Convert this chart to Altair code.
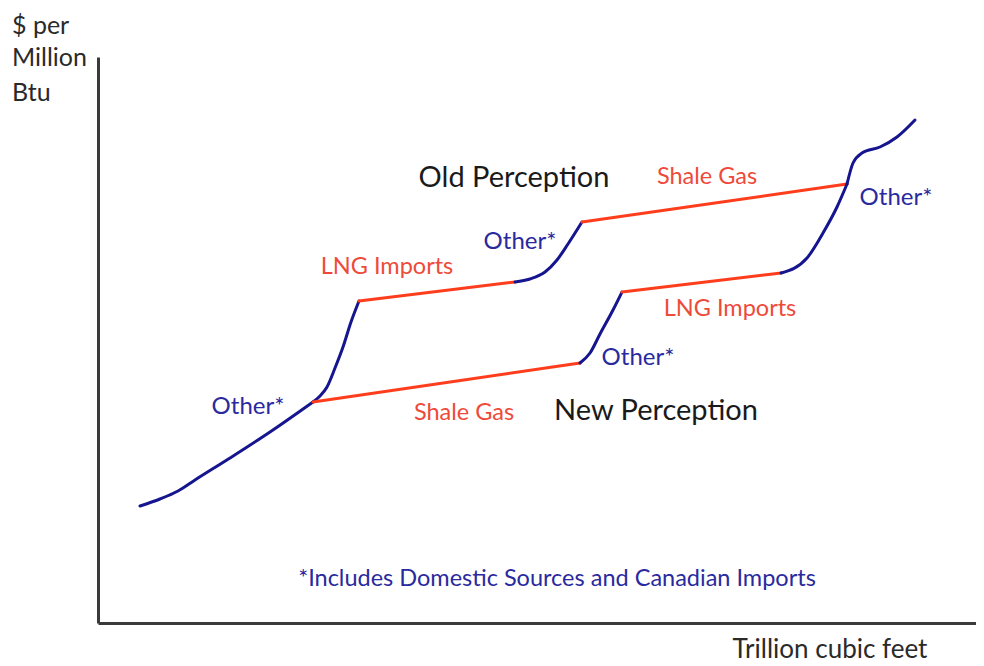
import altair as alt
import pandas as pd

# Schematic supply curve (x: quantity, y: price), units are arbitrary chart units
base_x = [42, 62, 80, 97, 132, 172, 215]
base_y = [117, 124, 132, 143, 165, 191, 221]

old_other1_x = [215, 222, 229, 237, 245, 253, 261]
old_other1_y = [221, 227, 236, 255, 276, 301, 322]
old_lng_x = [261, 417]
old_lng_y = [322, 341]
old_other2_x = [417, 432, 447, 459, 470, 484]
old_other2_y = [341, 344, 351, 363, 379, 401]
old_shale_x = [484, 749]
old_shale_y = [401, 439]

new_shale_x = [215, 482]
new_shale_y = [221, 260]
new_other1_x = [482, 492, 502, 515, 524]
new_other1_y = [260, 270, 289, 313, 331]
new_lng_x = [524, 683]
new_lng_y = [331, 350]
new_other2_x = [683, 709, 725, 739, 749]
new_other2_y = [350, 365, 390, 416, 439]

top_x = [749, 755, 764, 782, 799, 817]
top_y = [439, 460, 470, 476, 486, 503]

segments = [
    ("base", "Other", base_x, base_y),
    ("old_other1", "Other", old_other1_x, old_other1_y),
    ("old_lng", "Supply", old_lng_x, old_lng_y),
    ("old_other2", "Other", old_other2_x, old_other2_y),
    ("old_shale", "Supply", old_shale_x, old_shale_y),
    ("new_shale", "Supply", new_shale_x, new_shale_y),
    ("new_other1", "Other", new_other1_x, new_other1_y),
    ("new_lng", "Supply", new_lng_x, new_lng_y),
    ("new_other2", "Other", new_other2_x, new_other2_y),
    ("top", "Other", top_x, top_y),
]

rows = []
for seg, kind, xs_, ys_ in segments:
    for i, (x, y) in enumerate(zip(xs_, ys_)):
        rows.append({"seg": seg, "kind": kind, "x": x, "y": y, "o": i})
curve = pd.DataFrame(rows)

# Labels
big_text = ["Old Perception", "New Perception"]
big_x = [416, 558]
big_y = [445, 212]

red_text = ["Shale Gas", "Shale Gas", "LNG Imports", "LNG Imports"]
red_x = [609, 366, 289, 632]
red_y = [446, 210, 356, 314]

blue_text = ["Other*", "Other*", "Other*", "Other*"]
blue_x = [150, 422, 540, 798]
blue_y = [216, 381, 265, 425]

note_text = ["*Includes Domestic Sources and Canadian Imports"]
note_x = [459]
note_y = [44]

ytitle_text = ["$ per", "Million", "Btu"]
ytitle_x = [-86, -86, -86]
ytitle_y = [597, 565, 530]

xtitle_text = ["Trillion cubic feet"]
xtitle_x = [732]
xtitle_y = [-27]

FONT = "Lato"
xs = alt.Scale(domain=[0, 878], nice=False, zero=False)
ys = alt.Scale(domain=[0, 566], nice=False, zero=False)

xenc = alt.X("x:Q", scale=xs, axis=alt.Axis(domain=True, domainColor="#3a3a3a", domainWidth=3,
                                             ticks=False, labels=False, grid=False, title=None))
yenc = alt.Y("y:Q", scale=ys, axis=alt.Axis(domain=True, domainColor="#3a3a3a", domainWidth=3,
                                             ticks=False, labels=False, grid=False, title=None))

lines = alt.Chart(curve).mark_line(interpolate="monotone", strokeWidth=3, strokeCap="round").encode(
    x=xenc, y=yenc,
    detail="seg:N",
    order="o:Q",
    color=alt.Color("kind:N", scale=alt.Scale(domain=["Other", "Supply"], range=["#15158f", "#ff3d1c"]), legend=None),
)


def text_layer(texts, xv, yv, color, size, align="center"):
    df = pd.DataFrame({"t": texts, "x": xv, "y": yv})
    return alt.Chart(df).mark_text(font=FONT, fontSize=size, color=color, align=align, baseline="middle").encode(
        x=alt.X("x:Q", scale=xs), y=alt.Y("y:Q", scale=ys), text="t:N")


layers = [
    lines,
    text_layer(big_text, big_x, big_y, "#1a1a1a", 29),
    text_layer(red_text, red_x, red_y, "#ee4a3a", 23.5),
    text_layer(blue_text, blue_x, blue_y, "#2a2a9e", 24),
    text_layer(note_text, note_x, note_y, "#2a2a9e", 23.5),
    text_layer(ytitle_text, ytitle_x, ytitle_y, "#2a2a2a", 25, align="left"),
    text_layer(xtitle_text, xtitle_x, xtitle_y, "#2a2a2a", 26),
]

chart = alt.layer(*layers).properties(
    width=878, height=566,
    padding={"left": 90, "top": 49, "right": 0, "bottom": 42},
    autosize=alt.AutoSizeParams(type="none"),
    background="white",
).configure_view(stroke=None)

chart.save("out.html", embed_options={"renderer": "svg", "actions": False})
